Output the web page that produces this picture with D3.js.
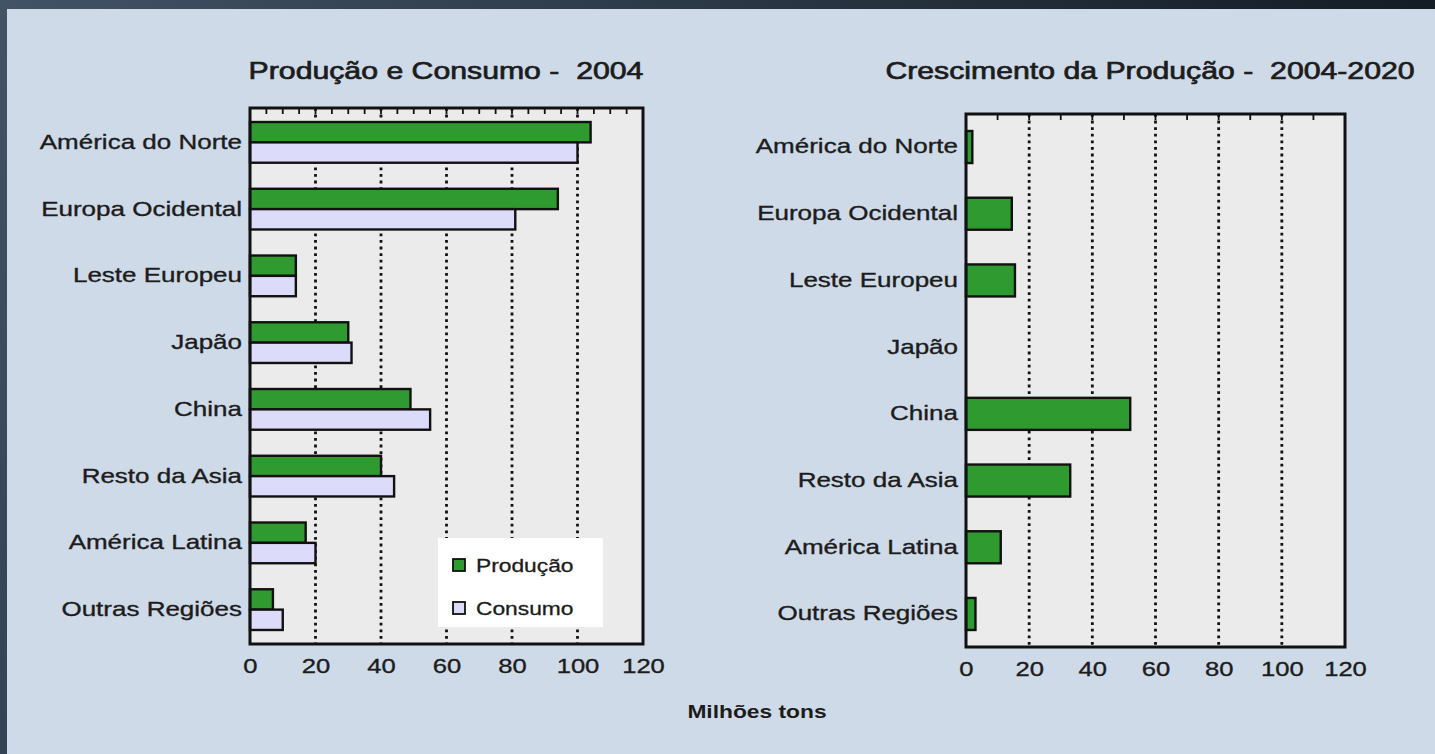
<!DOCTYPE html>
<html><head><meta charset="utf-8">
<script src="https://cdn.jsdelivr.net/npm/d3@7"></script>
<style>
html,body{margin:0;padding:0;background:#2a3643;overflow:hidden;}
svg{display:block;font-family:"Liberation Sans",Arial,sans-serif;}
text{white-space:pre;}
</style></head><body>
<svg id="c" width="1435" height="754"></svg>
<script>
// ---- data ----
const categories = ["América do Norte","Europa Ocidental","Leste Europeu","Japão","China","Resto da Asia","América Latina","Outras Regiões"];
const producao2004 = [104, 94, 14, 30, 49, 40, 17, 7];
const consumo2004 = [100, 81, 14, 31, 55, 44, 20, 10];
const crescimento = [2, 14.5, 15.5, 0, 52, 33, 11, 3];
const xTicks = [0, 20, 40, 60, 80, 100, 120];
const gridValues = [20, 40, 60, 80, 100];
const seriesNames = ["Produção", "Consumo"];
const titles = ["Produção e Consumo -  2004", "Crescimento da Produção -  2004-2020"];
const xLabel = "Milhões tons";

// ---- styles ----
const GREEN = "#2f9a2f", LAV = "#dcdcfa", PLOT = "#ebebeb", INK = "#1c1c1c";

const svg = d3.select("#c");
const defs = svg.append("defs");
const g0 = defs.append("linearGradient").attr("id","bg").attr("x1","0").attr("x2","1").attr("y1","0").attr("y2","0.3");
g0.append("stop").attr("offset","0").attr("stop-color","#425366");
g0.append("stop").attr("offset","1").attr("stop-color","#10171f");
svg.append("rect").attr("width",1435).attr("height",754).attr("fill","url(#bg)");
svg.append("rect").attr("x",7).attr("y",9).attr("width",1428).attr("height",745).attr("fill","#cfdae8");

function stretchText(sel, sx){ sel.attr("transform", `scale(${sx},1)`); }

function drawPanel(opt){
  const {x0,x1,y0,y1,series,colors,pin,pout,minorStep,title,titleX} = opt;
  const x = d3.scaleLinear().domain([0,120]).range([x0,x1]);
  const y = d3.scaleBand().domain(categories).range([y0,y1]).paddingInner(pin).paddingOuter(pout);
  const sub = d3.scaleBand().domain(d3.range(series.length)).range([0,y.bandwidth()]).padding(0);
  const g = svg.append("g");
  g.append("rect").attr("x",x0).attr("y",y0).attr("width",x1-x0).attr("height",y1-y0).attr("fill",PLOT);
  // dotted gridlines
  g.selectAll("line.grid").data(gridValues).join("line").attr("class","grid")
    .attr("x1",d=>x(d)).attr("x2",d=>x(d)).attr("y1",y0).attr("y2",y1)
    .attr("stroke","#111").attr("stroke-width",2.8).attr("stroke-dasharray","2.8,3.8");
  // top minor ticks
  g.selectAll("line.mt").data(d3.range(minorStep,120,minorStep)).join("line").attr("class","mt")
    .attr("x1",d=>x(d)).attr("x2",d=>x(d)).attr("y1",y0).attr("y2",y0+6)
    .attr("stroke","#111").attr("stroke-width",1.8);
  // bars
  series.forEach((vals,si)=>{
    g.selectAll(null).data(vals).join("rect")
      .attr("x",x(0)).attr("y",(d,i)=>y(categories[i])+sub(si))
      .attr("width",d=>x(d)-x(0)).attr("height",sub.bandwidth())
      .attr("fill",colors[si]).attr("stroke","#111").attr("stroke-width",2.4)
      .style("display",d=>d>0?null:"none");
  });
  // axes
  const ax = g.append("g").attr("transform",`translate(0,${y1})`)
    .call(d3.axisBottom(x).tickValues(xTicks).tickSize(0).tickPadding(14));
  ax.select(".domain").remove();
  ax.selectAll("text").attr("font-size",21).attr("fill",INK).attr("stroke",INK).attr("stroke-width",0.35)
    .attr("font-family","Liberation Sans, Arial, sans-serif").call(stretchText,1.22);
  const ay = g.append("g").attr("transform",`translate(${x0},0)`)
    .call(d3.axisLeft(y).tickSize(0).tickPadding(8/1.3));
  ay.select(".domain").remove();
  ay.selectAll("text").attr("font-size",20).attr("fill",INK).attr("stroke",INK).attr("stroke-width",0.35)
    .attr("font-family","Liberation Sans, Arial, sans-serif").call(stretchText,1.3);
  // title
  svg.append("text").attr("transform",`translate(${titleX},79) scale(1.26,1)`)
    .attr("text-anchor","middle").attr("font-size",24).attr("fill",INK)
    .attr("stroke",INK).attr("stroke-width",0.7).text(title);
  return {g,x,y};
}

const L = drawPanel({x0:250,x1:643,y0:108,y1:644,series:[producao2004,consumo2004],colors:[GREEN,LAV],
  pin:0.39,pout:0.21,minorStep:5,title:titles[0],titleX:446});

// legend
const leg = L.g.append("g");
leg.append("rect").attr("x",438).attr("y",538).attr("width",165).attr("height",89).attr("fill","#fff");
seriesNames.forEach((n,i)=>{
  const cy = 565 + i*43;
  leg.append("rect").attr("x",453).attr("y",cy-6).attr("width",12).attr("height",12)
    .attr("fill",[GREEN,LAV][i]).attr("stroke","#111").attr("stroke-width",1.8);
  leg.append("text").attr("transform",`translate(476,${cy+7}) scale(1.2,1)`)
    .attr("font-size",19).attr("fill",INK).attr("stroke",INK).attr("stroke-width",0.3).text(n);
});
L.g.append("rect").attr("x",250).attr("y",108).attr("width",393).attr("height",536)
  .attr("fill","none").attr("stroke","#111").attr("stroke-width",3);

const R = drawPanel({x0:966,x1:1345,y0:114,y1:647,series:[crescimento],colors:[GREEN],
  pin:0.52,pout:0.255,minorStep:10,title:titles[1],titleX:1150});
R.g.append("rect").attr("x",966).attr("y",114).attr("width",379).attr("height",533)
  .attr("fill","none").attr("stroke","#111").attr("stroke-width",3);

svg.append("text").attr("transform","translate(757,718) scale(1.2,1)").attr("text-anchor","middle")
  .attr("font-size",19).attr("font-weight","bold").attr("fill",INK).text(xLabel);
</script>
</body></html>
